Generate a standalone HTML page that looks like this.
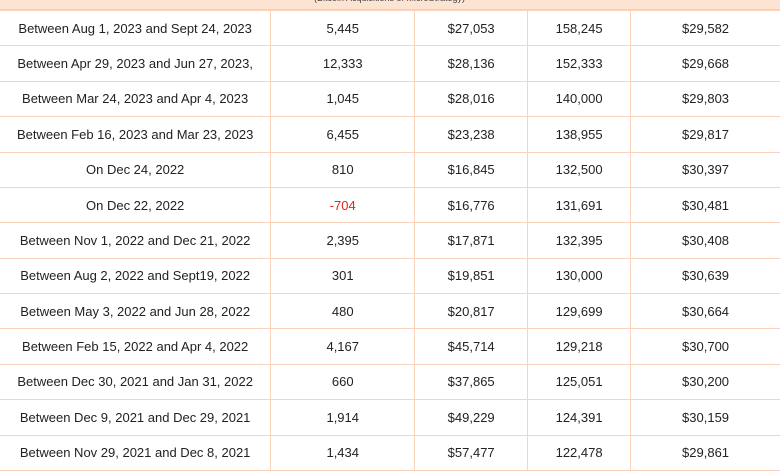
<!DOCTYPE html>
<html><head><style>
body{margin:0;width:780px;height:470px;overflow:hidden;background:#fff;font-family:"Liberation Sans",Arial,sans-serif;}
.top{position:absolute;left:0;top:0;width:780px;height:10px;background:#fde3d2;border-bottom:1px solid #f9cfb3;box-sizing:border-box;}
.top span{position:absolute;left:314px;top:-7px;font-size:9px;color:#444;}
table{position:absolute;left:0;top:10px;border-collapse:collapse;width:781px;}
td{height:35.38px;padding:0;box-sizing:border-box;border:1px solid #f9d3bb;text-align:center;font-size:13px;color:#222;}
td:first-child{border-left:none}
.r{color:#e8231c}
</style></head><body>
<div class="top"><span>(Bitcoin Acquisitions of MicroStrategy)</span></div>
<table>
<colgroup><col style="width:271px"><col style="width:144px"><col style="width:113px"><col style="width:103px"><col style="width:150px"></colgroup>
<tr><td>Between Aug 1, 2023 and Sept 24, 2023</td><td>5,445</td><td>$27,053</td><td>158,245</td><td>$29,582</td></tr>
<tr><td>Between Apr 29, 2023 and Jun 27, 2023,</td><td>12,333</td><td>$28,136</td><td>152,333</td><td>$29,668</td></tr>
<tr><td>Between Mar 24, 2023 and Apr 4, 2023</td><td>1,045</td><td>$28,016</td><td>140,000</td><td>$29,803</td></tr>
<tr><td>Between Feb 16, 2023 and Mar 23, 2023</td><td>6,455</td><td>$23,238</td><td>138,955</td><td>$29,817</td></tr>
<tr><td>On Dec 24, 2022</td><td>810</td><td>$16,845</td><td>132,500</td><td>$30,397</td></tr>
<tr><td>On Dec 22, 2022</td><td class="r">-704</td><td>$16,776</td><td>131,691</td><td>$30,481</td></tr>
<tr><td>Between Nov 1, 2022 and Dec 21, 2022</td><td>2,395</td><td>$17,871</td><td>132,395</td><td>$30,408</td></tr>
<tr><td>Between Aug 2, 2022 and Sept19, 2022</td><td>301</td><td>$19,851</td><td>130,000</td><td>$30,639</td></tr>
<tr><td>Between May 3, 2022 and Jun 28, 2022</td><td>480</td><td>$20,817</td><td>129,699</td><td>$30,664</td></tr>
<tr><td>Between Feb 15, 2022 and Apr 4, 2022</td><td>4,167</td><td>$45,714</td><td>129,218</td><td>$30,700</td></tr>
<tr><td>Between Dec 30, 2021 and Jan 31, 2022</td><td>660</td><td>$37,865</td><td>125,051</td><td>$30,200</td></tr>
<tr><td>Between Dec 9, 2021 and Dec 29, 2021</td><td>1,914</td><td>$49,229</td><td>124,391</td><td>$30,159</td></tr>
<tr><td>Between Nov 29, 2021 and Dec 8, 2021</td><td>1,434</td><td>$57,477</td><td>122,478</td><td>$29,861</td></tr>
</table>
</body></html>
